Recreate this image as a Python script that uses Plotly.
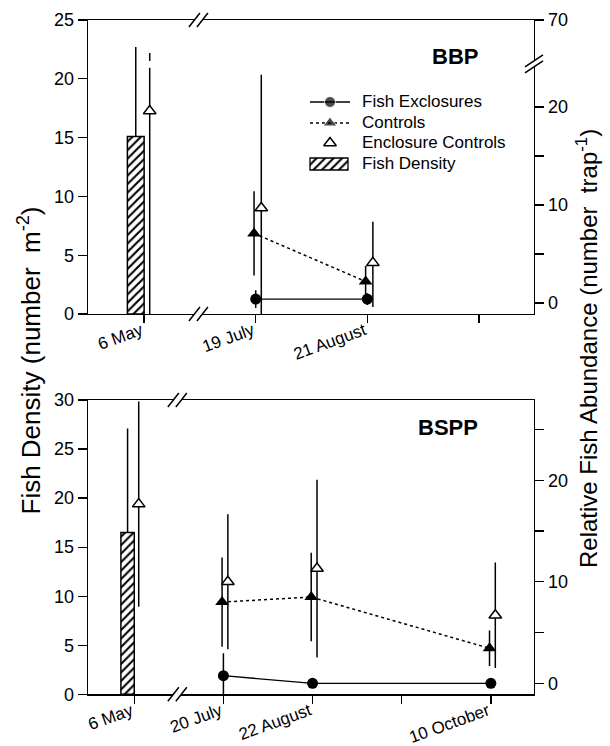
import plotly.graph_objects as go

# ---------------- data ----------------
# Top panel: BBP
bbp_ticks = ["6 May", "19 July", "21 August", ""]
bbp_density_dates = ["6 May"]
bbp_density = [15.1]            # fish density, number m-2 (left axis)
bbp_density_err = [7.6]
bbp_excl_dates = ["19 July", "21 August"]
bbp_excl = [0.4, 0.4]           # relative abundance, number trap-1 (right axis)
bbp_excl_err = [0.9, 0.6]
bbp_ctrl_dates = ["19 July", "21 August"]
bbp_ctrl = [7.1, 2.2]
bbp_ctrl_err = [4.3, 1.6]
bbp_encl_dates = ["6 May", "19 July", "21 August"]
bbp_encl = [19.6, 9.7, 4.1]
bbp_encl_err_plus = [5.9, 13.6, 4.2]
bbp_encl_err_minus = [22.0, 13.6, 4.5]

# Bottom panel: BSPP
bspp_ticks = ["6 May", "20 July", "22 August", "", "10 October"]
bspp_density_dates = ["6 May"]
bspp_density = [16.5]
bspp_density_err = [10.6]
bspp_excl_dates = ["20 July", "22 August", "10 October"]
bspp_excl = [0.75, 0.0, 0.0]
bspp_excl_err = [2.2, 0.0, 0.0]
bspp_ctrl_dates = ["20 July", "22 August", "10 October"]
bspp_ctrl = [8.0, 8.5, 3.45]
bspp_ctrl_err = [4.4, 4.35, 1.75]
bspp_encl_dates = ["6 May", "20 July", "22 August", "10 October"]
bspp_encl = [17.65, 10.0, 11.3, 6.7]
bspp_encl_err = [10.1, 6.65, 8.75, 5.2]

legend_labels = ["Fish Exclosures", "Controls", "Enclosure Controls", "Fish Density"]

# ---------------- styling ----------------
FONT = "Liberation Sans, Arial, Helvetica, sans-serif"
W, H = 610, 746
OPEN_DX = 0.05
FILLED_DX = -0.015
BAR_W = 0.15
LW = 1.3
HATCH = dict(shape="/", fgcolor="black", bgcolor="white", size=6, solidity=0.35)


def pos(ticks, dates, dx=0.0):
    return [ticks.index(d) + dx for d in dates]


def err(plus, minus=None):
    d = dict(type="data", array=plus, color="black", thickness=1.5, width=0, visible=True)
    if minus is not None:
        d["symmetric"] = False
        d["arrayminus"] = minus
    return d


fig = go.Figure()


def add_panel(ticks, dens_d, dens, dens_e, ex_d, ex, ex_e, ct_d, ct, ct_e,
              en_d, en, en_ep, en_em, xa, ya, ya2):
    fig.add_trace(go.Bar(
        x=pos(ticks, dens_d), y=dens, width=BAR_W, offset=-BAR_W,
        marker=dict(color="white", line=dict(color="black", width=1.5), pattern=HATCH),
        error_y=err(dens_e, [0] * len(dens_e)),
        name=legend_labels[3], showlegend=False, xaxis=xa, yaxis=ya))
    fig.add_trace(go.Scatter(
        x=pos(ticks, ex_d), y=ex, mode="lines+markers",
        line=dict(color="black", width=LW),
        marker=dict(symbol="circle", size=11, color="black"),
        error_y=err(ex_e), name=legend_labels[0], showlegend=False, xaxis=xa, yaxis=ya2))
    fig.add_trace(go.Scatter(
        x=pos(ticks, ct_d, FILLED_DX), y=ct, mode="lines+markers",
        line=dict(color="black", width=1.5, dash="dot"),
        marker=dict(symbol="triangle-up", size=12, color="black"),
        error_y=err(ct_e), name=legend_labels[1], showlegend=False, xaxis=xa, yaxis=ya2))
    fig.add_trace(go.Scatter(
        x=pos(ticks, en_d, OPEN_DX), y=en, mode="markers",
        marker=dict(symbol="triangle-up", size=11, color="white", line=dict(color="black", width=1.5)),
        error_y=err(en_ep, en_em), name=legend_labels[2], showlegend=False, xaxis=xa, yaxis=ya2))


add_panel(bbp_ticks, bbp_density_dates, bbp_density, bbp_density_err,
          bbp_excl_dates, bbp_excl, bbp_excl_err,
          bbp_ctrl_dates, bbp_ctrl, bbp_ctrl_err,
          bbp_encl_dates, bbp_encl, bbp_encl_err_plus, bbp_encl_err_minus,
          "x", "y", "y2")
add_panel(bspp_ticks, bspp_density_dates, bspp_density, bspp_density_err,
          bspp_excl_dates, bspp_excl, bspp_excl_err,
          bspp_ctrl_dates, bspp_ctrl, bspp_ctrl_err,
          bspp_encl_dates, bspp_encl, bspp_encl_err, None,
          "x2", "y3", "y4")

# ---------------- hand-drawn legend on a hidden pixel-like axis pair ----------------
LEG_X0, LEG_X1, LEG_Y0, LEG_Y1 = 300, 500, 90, 180
row_y = [102, 123, 143, 164]
sx0, sxm, sx1, tx = 310, 330, 350, 360
fig.add_trace(go.Scatter(x=[sx0, sxm, sx1], y=[row_y[0]] * 3, mode="lines+markers",
                         line=dict(color="black", width=LW),
                         marker=dict(symbol="circle", size=[0, 11, 0], color="black"),
                         showlegend=False, hoverinfo="skip", xaxis="x3", yaxis="y5"))
fig.add_trace(go.Scatter(x=[sx0, sxm, sx1], y=[row_y[1]] * 3, mode="lines+markers",
                         line=dict(color="black", width=1.5, dash="dot"),
                         marker=dict(symbol="triangle-up", size=[0, 12, 0], color="black"),
                         showlegend=False, hoverinfo="skip", xaxis="x3", yaxis="y5"))
fig.add_trace(go.Scatter(x=[sxm], y=[row_y[2]], mode="markers",
                         marker=dict(symbol="triangle-up", size=11, color="white",
                                     line=dict(color="black", width=1.5)),
                         showlegend=False, hoverinfo="skip", xaxis="x3", yaxis="y5"))
fig.add_trace(go.Bar(x=[(sx0 + sx1) / 2 - 1], y=[12], base=[row_y[3] - 6], width=[38],
                     marker=dict(color="white", line=dict(color="black", width=1.3), pattern=HATCH),
                     showlegend=False, hoverinfo="skip", xaxis="x3", yaxis="y5"))
for lab, ry in zip(legend_labels, row_y):
    fig.add_annotation(text=lab, x=tx, y=ry, xref="x3", yref="y5", xanchor="left", yanchor="middle",
                       showarrow=False, font=dict(family=FONT, size=17, color="black"))

tickfont_y = dict(family=FONT, size=18, color="black")
tickfont_x = dict(family=FONT, size=17, color="black")
common_x = dict(showline=True, linecolor="black", linewidth=LW, mirror=True,
                ticks="outside", ticklen=8, tickwidth=LW, tickcolor="black",
                showgrid=False, zeroline=False, tickangle=-20, tickfont=tickfont_x,
                automargin=False, ticklabelstandoff=-9, ticklabelshift=-3)
common_y = dict(showline=True, linecolor="black", linewidth=LW,
                ticks="outside", ticklen=9, tickwidth=LW, tickcolor="black",
                showgrid=False, zeroline=False, tickfont=tickfont_y, automargin=False)

xdom = [88 / W, 534 / W]
top_dom = [(H - 314) / H, (H - 20) / H]
bot_dom = [(H - 694.3) / H, (H - 400) / H]

top_y2_max = 28.88
fig.update_layout(
    template="none",
    width=W, height=H, autosize=False,
    margin=dict(l=0, r=0, t=0, b=0, pad=0),
    paper_bgcolor="white", plot_bgcolor="rgba(0,0,0,0)",
    font=dict(family=FONT, color="black"),
    barmode="overlay", showlegend=False, hovermode=False,
    xaxis=dict(domain=xdom, anchor="y", range=[-0.503, 3.494],
               tickvals=list(range(len(bbp_ticks))), ticktext=bbp_ticks, **common_x),
    yaxis=dict(domain=top_dom, anchor="x", range=[0, 25], tickvals=[0, 5, 10, 15, 20, 25], **common_y),
    yaxis2=dict(overlaying="y", side="right", anchor="x", range=[-1.12, top_y2_max],
                tickvals=[0, 5, 10, 15, 20, top_y2_max], ticktext=["0", "", "10", "", "20", "70"],
                **common_y),
    xaxis2=dict(domain=xdom, anchor="y3", range=[-0.519, 4.484],
                tickvals=list(range(len(bspp_ticks))), ticktext=bspp_ticks, **common_x),
    yaxis3=dict(domain=bot_dom, anchor="x2", range=[0, 30], tickvals=[0, 5, 10, 15, 20, 25, 30], **common_y),
    yaxis4=dict(overlaying="y3", side="right", anchor="x2", range=[-1.08, 27.9],
                tickvals=[0, 5, 10, 15, 20, 25], ticktext=["0", "", "10", "", "20", ""], **common_y),
    xaxis3=dict(domain=[LEG_X0 / W, LEG_X1 / W], anchor="y5", range=[LEG_X0, LEG_X1], visible=False,
                fixedrange=True),
    yaxis5=dict(domain=[(H - LEG_Y1) / H, (H - LEG_Y0) / H], anchor="x3", range=[LEG_Y1, LEG_Y0],
                visible=False, fixedrange=True),
)

fig.add_annotation(text="Fish Density (number  m<sup>-2</sup>)", textangle=-90,
                   x=11 / W, y=(H - 361) / H, xref="paper", yref="paper",
                   showarrow=False, font=dict(family=FONT, size=26, color="black"))
fig.add_annotation(text="Relative Fish Abundance (number  trap<sup>-1</sup>)", textangle=-90,
                   x=604 / W, y=(H - 349) / H, xref="paper", yref="paper",
                   showarrow=False, font=dict(family=FONT, size=24, color="black"))
fig.add_annotation(text="<b>BBP</b>", x=480 / W, y=(H - 42) / H, xref="paper", yref="paper",
                   showarrow=False, font=dict(family=FONT, size=22, color="black"))
fig.add_annotation(text="<b>BSPP</b>", x=480 / W, y=(H - 427) / H, xref="paper", yref="paper",
                   showarrow=False, font=dict(family=FONT, size=22, color="black"))


# axis break marks
def xbreak(xref, yref, xval, yval):
    base = dict(xref=xref, yref=yref, xsizemode="pixel", ysizemode="pixel",
                xanchor=xval, yanchor=yval, layer="above")
    fig.add_shape(type="path", path="M -11,-7 L 0,7 L 8,7 L -3,-7 Z",
                  fillcolor="white", line=dict(width=0), **base)
    fig.add_shape(type="path", path="M -11,-7 L 0,7", line=dict(color="black", width=1.5), **base)
    fig.add_shape(type="path", path="M -3,-7 L 8,7", line=dict(color="black", width=1.5), **base)


for yv in (0, 1):
    xbreak("x", "y domain", 0.5, yv)
    xbreak("x2", "y3 domain", 0.5, yv)

# right-axis break (top panel)
rb = dict(xref="x domain", yref="y2", xsizemode="pixel", ysizemode="pixel",
          xanchor=1, yanchor=24.4, layer="above")
fig.add_shape(type="path", path="M -9,-9 L 9,3 L 9,9 L -9,-3 Z", fillcolor="white",
              line=dict(width=0), **rb)
fig.add_shape(type="path", path="M -9,-9 L 9,3", line=dict(color="black", width=1.5), **rb)
fig.add_shape(type="path", path="M -9,-3 L 9,9", line=dict(color="black", width=1.5), **rb)
# gap in the 6 May enclosure-control error bar at the axis break
fig.add_shape(type="rect", xref="x", yref="y2", xsizemode="pixel",
              xanchor=pos(bbp_ticks, ["6 May"], OPEN_DX)[0], x0=-3, x1=3, y0=24.0, y1=24.7,
              fillcolor="white", line=dict(width=0), layer="above")

fig.write_html("out.html", config={"displayModeBar": False, "staticPlot": True},
               post_script="document.body.style.margin='0';document.body.style.padding='0';")
